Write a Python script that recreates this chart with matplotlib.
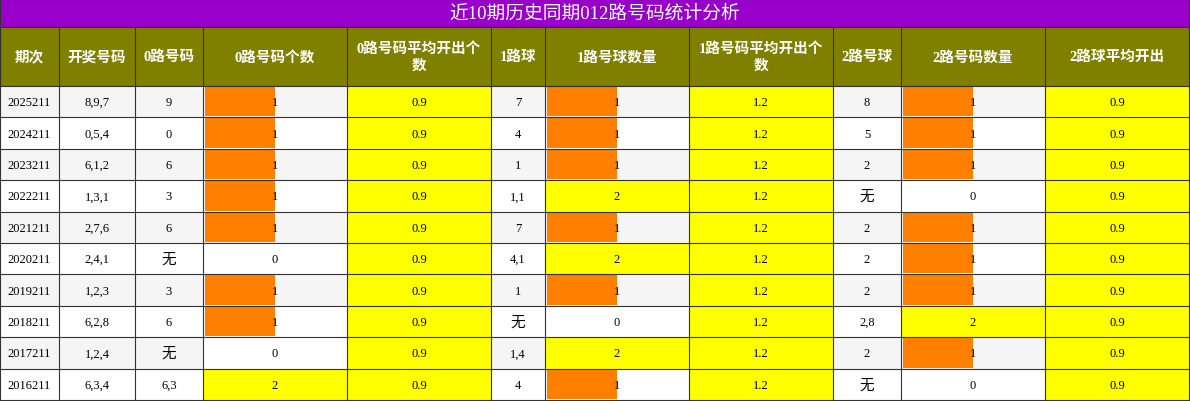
import matplotlib
matplotlib.use("Agg")
import matplotlib.pyplot as plt
from matplotlib.patches import Rectangle

title = "近10期历史同期012路号码统计分析"
headers = ["期次", "开奖号码", "0路号码", "0路号码个数", "0路号码平均开出个\n数", "1路球", "1路号球数量",
           "1路号码平均开出个\n数", "2路号球", "2路号码数量", "2路球平均开出"]
periods = ["2025211", "2024211", "2023211", "2022211", "2021211", "2020211", "2019211", "2018211", "2017211", "2016211"]
draws = ["8,9,7", "0,5,4", "6,1,2", "1,3,1", "2,7,6", "2,4,1", "1,2,3", "6,2,8", "1,2,4", "6,3,4"]
ball0 = ["9", "0", "6", "3", "6", "无", "3", "6", "无", "6,3"]
cnt0 = [1, 1, 1, 1, 1, 0, 1, 1, 0, 2]
avg0 = ["0.9"] * 10
ball1 = ["7", "4", "1", "1,1", "7", "4,1", "1", "无", "1,4", "4"]
cnt1 = [1, 1, 1, 2, 1, 2, 1, 0, 2, 1]
avg1 = ["1.2"] * 10
ball2 = ["8", "5", "2", "无", "2", "2", "2", "2,8", "2", "无"]
cnt2 = [1, 1, 1, 0, 1, 1, 1, 2, 1, 0]
avg2 = ["0.9"] * 10

xs = [0, 59, 135, 203, 347, 491, 545, 689, 833, 901, 1045, 1189]
W, H = 1190, 402
fam = ["Liberation Serif", "Noto Sans CJK SC"]

fig = plt.figure(figsize=(W / 100, H / 100), dpi=100)
ax = fig.add_axes([0, 0, 1, 1])
ax.set_xlim(0, W); ax.set_ylim(H, 0); ax.axis("off")

ax.add_patch(Rectangle((0, 0), 1189, 28, fc="#9900cc", ec="#333333", lw=0.8))
ax.text(595, 14, title, color="white", fontsize=13.5, ha="center", va="center", family=fam)
ax.add_patch(Rectangle((0, 28), 1189, 59, fc="#808000", ec="#333333", lw=0.8))
for i, h in enumerate(headers):
    ax.text((xs[i] + xs[i + 1]) / 2, 57.5, h, color="white", fontsize=10.5, fontweight="bold",
            ha="center", va="center", family=fam, linespacing=1.4)

y0, rh = 87, 31.4
cols = [periods, draws, ball0, cnt0, avg0, ball1, cnt1, avg1, ball2, cnt2, avg2]
for r in range(10):
    y = y0 + r * rh
    bg = "#f5f5f5" if r % 2 == 0 else "white"
    for c in range(11):
        x, w = xs[c], xs[c + 1] - xs[c]
        fc = bg
        if c in (4, 7, 10):
            fc = "yellow"
        if c in (3, 6, 9) and cols[c][r] == 2:
            fc = "yellow"
        if c in (3, 6, 9) and cols[c][r] == 0:
            fc = "white"
        ax.add_patch(Rectangle((x, y), w, rh, fc=fc, ec="none"))
        if c in (3, 6, 9) and cols[c][r] == 1:
            ax.barh(y + rh / 2, w / 2 * cols[c][r] - 2, left=x + 2, height=rh - 2, color="#ff7f00")
        v = cols[c][r]
        ax.text(x + w / 2, y + rh / 2 + 0.5, str(v), fontsize=9 if v != "无" else 10.5,
                ha="center", va="center", family=fam, color="black")
# grid
for x in xs:
    ax.plot([x, x], [28, y0 + 10 * rh], color="#333333", lw=0.8)
for r in range(11):
    ax.plot([0, 1189], [y0 + r * rh] * 2, color="#333333", lw=0.8)
fig.savefig("out.png", dpi=100)
